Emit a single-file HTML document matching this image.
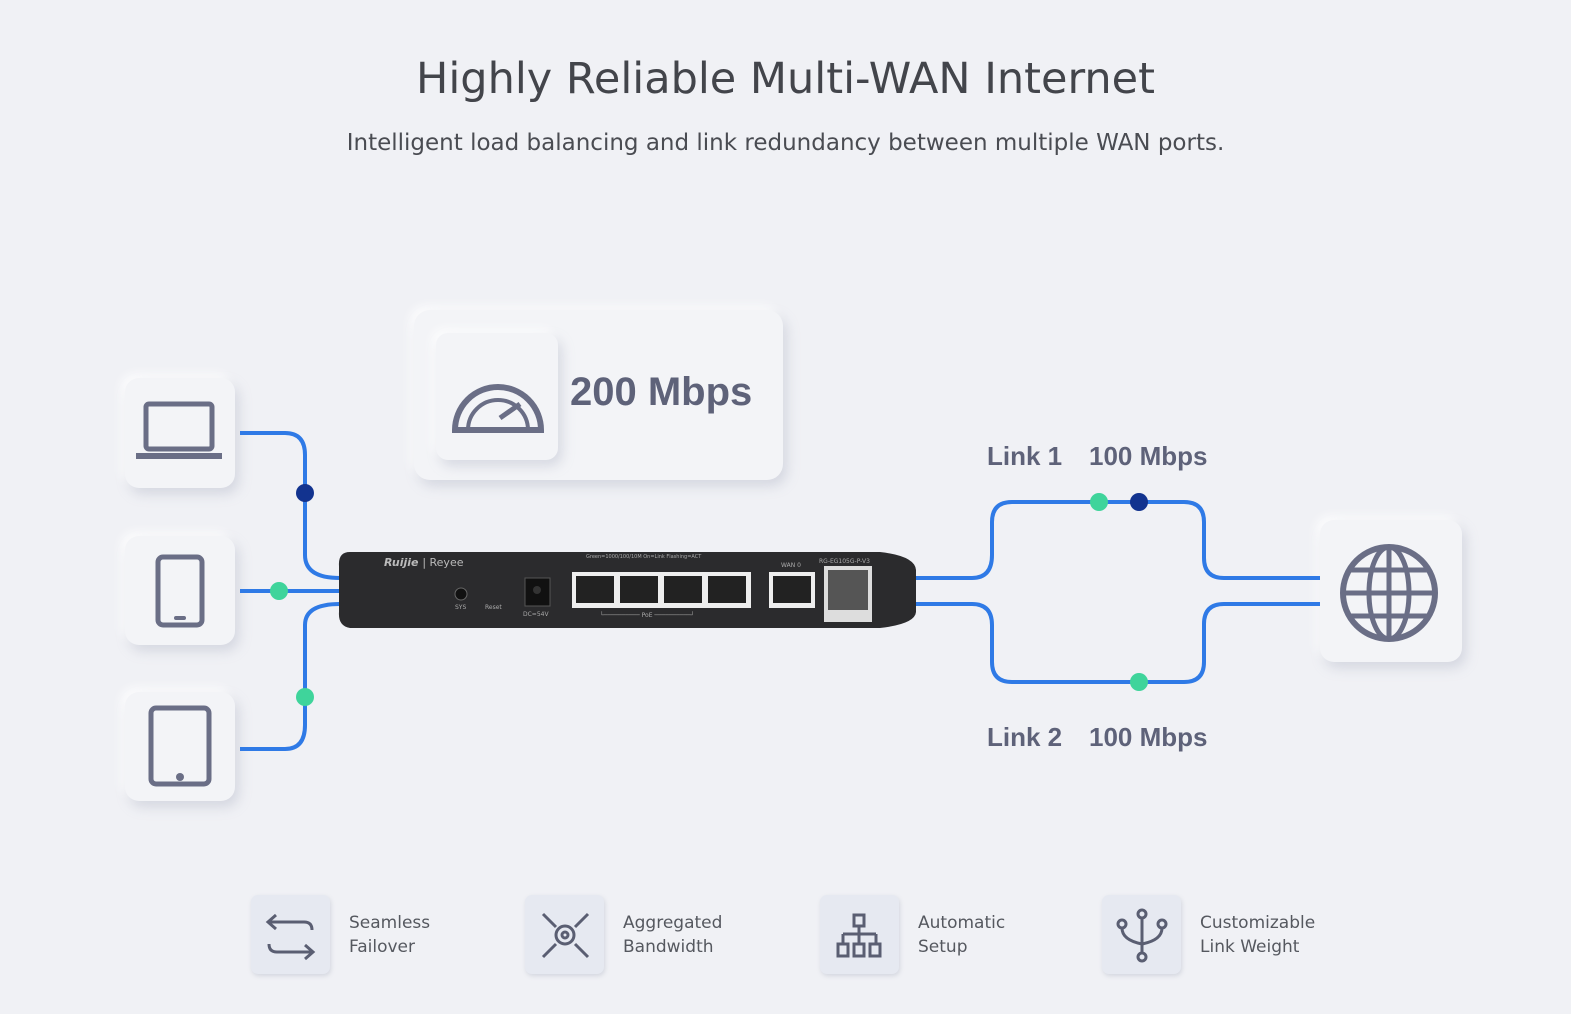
<!DOCTYPE html>
<html><head><meta charset="utf-8"><style>
body{margin:0;width:1571px;height:1014px;background:#f0f1f5;font-family:"DejaVu Sans","Liberation Sans",sans-serif;overflow:hidden;position:relative}
.t{position:absolute;left:0;width:1571px;text-align:center;color:#43454b}
.card{position:absolute;background:#f3f4f7;border-radius:14px;box-shadow:4px 6px 12px rgba(160,165,185,.35),-4px -4px 10px rgba(255,255,255,.9)}
.ft{position:absolute;font-size:17px;line-height:24px;color:#55585f}
.fb{position:absolute;width:79px;height:79px;border-radius:7px;background:#e6e9f1;box-shadow:1px 2px 4px rgba(150,155,175,.3)}
.lbl{position:absolute;font-family:"Liberation Sans",sans-serif;font-weight:bold;font-size:26px;color:#5e6279}
</style></head><body>
<div class="t" style="top:54px;font-size:43px">Highly Reliable Multi-WAN Internet</div>
<div class="t" style="top:130px;font-size:23px;color:#4a4c52">Intelligent load balancing and link redundancy between multiple WAN ports.</div>

<div class="card" style="left:125px;top:378px;width:110px;height:110px"></div>
<div class="card" style="left:125px;top:536px;width:110px;height:109px"></div>
<div class="card" style="left:125px;top:692px;width:110px;height:109px"></div>
<div class="card" style="left:1320px;top:520px;width:142px;height:142px"></div>
<div class="card" style="left:414px;top:310px;width:369px;height:170px;border-radius:16px"></div>
<div class="card" style="left:436px;top:333px;width:122px;height:127px;border-radius:12px"></div>
<div class="lbl" style="left:570px;top:370px;font-size:40px">200 Mbps</div>
<div class="lbl" style="left:987px;top:441px">Link 1</div>
<div class="lbl" style="left:1089px;top:441px">100 Mbps</div>
<div class="lbl" style="left:987px;top:722px">Link 2</div>
<div class="lbl" style="left:1089px;top:722px">100 Mbps</div>

<svg width="1571" height="1014" style="position:absolute;left:0;top:0">
<g fill="none" stroke="#2f7ae6" stroke-width="4">
<path d="M240 433H285Q305 433 305 455V555Q305 578 340 578"/>
<path d="M240 591H340"/>
<path d="M240 749H285Q305 749 305 725V625Q305 604 340 604"/>
<path d="M916 578H972Q992 578 992 555V522Q992 502 1012 502H1184Q1204 502 1204 522V558Q1204 578 1224 578H1320"/>
<path d="M916 604H972Q992 604 992 625V662Q992 682 1012 682H1184Q1204 682 1204 662V624Q1204 604 1224 604H1320"/>
</g>
<circle cx="305" cy="493" r="9" fill="#12338f"/>
<circle cx="279" cy="591" r="9" fill="#3fd49b"/>
<circle cx="305" cy="697" r="9" fill="#3fd49b"/>
<circle cx="1099" cy="502" r="9" fill="#3fd49b"/>
<circle cx="1139" cy="502" r="9" fill="#12338f"/>
<circle cx="1139" cy="682" r="9" fill="#3fd49b"/>
<path d="M350 552H880Q915 556 916 570V612Q915 624 880 628H350Q338 626 339 612V566Q338 552 350 552Z" fill="#2b2b2d"/>
<text x="384" y="566" font-size="11" fill="#bbb" font-style="italic" font-weight="bold">Ruijie <tspan font-weight="normal" font-style="normal">| Reyee</tspan></text>
<circle cx="461" cy="594" r="6" fill="#111" stroke="#666"/>
<text x="455" y="609" font-size="6" fill="#aaa">SYS</text><text x="485" y="609" font-size="6" fill="#aaa">Reset</text>
<rect x="525" y="578" width="25" height="28" fill="#111" stroke="#555"/><circle cx="537" cy="590" r="4" fill="#333"/>
<text x="523" y="616" font-size="6" fill="#aaa">DC=54V</text>
<text x="586" y="558" font-size="5" fill="#aaa">Green=1000/100/10M On=Link Flashing=ACT</text>
<rect x="572" y="572" width="179" height="36" fill="#eee"/>
<g fill="#222"><rect x="576" y="576" width="38" height="27"/><rect x="620" y="576" width="38" height="27"/><rect x="664" y="576" width="38" height="27"/><rect x="708" y="576" width="38" height="27"/></g>
<text x="600" y="617" font-size="6" fill="#aaa">└────────── PoE ──────────┘</text>
<rect x="769" y="572" width="46" height="36" fill="#eee"/><rect x="773" y="576" width="38" height="27" fill="#222"/>
<text x="781" y="567" font-size="6" fill="#aaa">WAN 0</text>
<text x="819" y="563" font-size="6" fill="#aaa">RG-EG105G-P-V3</text>
<rect x="824" y="566" width="48" height="56" fill="#ddd"/><rect x="828" y="570" width="40" height="40" fill="#555"/>
<g fill="none" stroke="#6a6e86" stroke-width="5">
<rect x="146" y="404" width="66" height="45" rx="3"/>
<path d="M136 456H222" stroke-width="6"/>
<rect x="158" y="557" width="44" height="68" rx="5"/>
<rect x="151" y="708" width="58" height="76" rx="5"/>
<path d="M455 430A43 43 0 1 1 541 430Z" stroke-width="6"/>
<path d="M468 430A30 30 0 1 1 528 430" stroke-width="4"/>
<path d="M500 418L520 404" stroke-width="5"/>
<circle cx="1389" cy="593" r="46" stroke-width="6"/>
<ellipse cx="1389" cy="593" rx="20" ry="46" stroke-width="5"/>
<path d="M1343 593H1435M1350 570H1428M1350 616H1428M1389 547V639" stroke-width="5"/>
</g>
<rect x="174" y="616" width="12" height="4" rx="2" fill="#6a6e86"/>
<circle cx="180" cy="777" r="4" fill="#6a6e86"/>
</svg>

<div class="fb" style="left:251px;top:895px"></div>
<div class="fb" style="left:525px;top:895px"></div>
<div class="fb" style="left:820px;top:895px"></div>
<div class="fb" style="left:1102px;top:895px"></div>
<svg width="1571" height="1014" style="position:absolute;left:0;top:0" fill="none" stroke="#5a5e72" stroke-width="3">
<path d="M276 915L268 922L276 929M268 922H304Q312 922 312 930M305 945L313 952L305 959M313 952H277Q269 952 269 944"/>
<circle cx="565" cy="935" r="9"/><circle cx="565" cy="935" r="3"/>
<path d="M543 914L556 927M588 914L575 927M543 957L556 944M588 957L575 944"/>
<rect x="854" y="915" width="10" height="11"/><path d="M859 926V934M843 934H876M843 934V944M859 934V944M876 934V944"/>
<rect x="838" y="944" width="10" height="12"/><rect x="854" y="944" width="10" height="12"/><rect x="870" y="944" width="10" height="12"/>
<circle cx="1142" cy="914" r="4"/><circle cx="1122" cy="924" r="4"/><circle cx="1162" cy="924" r="4"/><circle cx="1142" cy="957" r="4"/>
<path d="M1142 918V953M1122 928Q1122 940 1142 944Q1162 940 1162 928"/>
</svg>
<div class="ft" style="left:349px;top:911px">Seamless<br>Failover</div>
<div class="ft" style="left:623px;top:911px">Aggregated<br>Bandwidth</div>
<div class="ft" style="left:918px;top:911px">Automatic<br>Setup</div>
<div class="ft" style="left:1200px;top:911px">Customizable<br>Link Weight</div>
</body></html>
